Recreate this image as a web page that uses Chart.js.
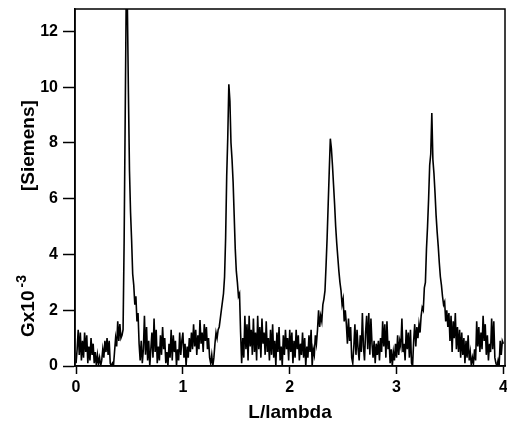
<!DOCTYPE html>
<html>
<head>
<meta charset="utf-8">
<title>Conductance vs L/lambda</title>
<script src="https://cdn.jsdelivr.net/npm/chart.js@4.4.0/dist/chart.umd.min.js"></script>
<style>
  html, body { margin: 0; padding: 0; background: #fff; }
  canvas { display: block; }
</style>
</head>
<body>
<canvas id="chart" width="507" height="428"></canvas>
<script>
'use strict';

/////// data ///////
// conductance samples, one every 0.01 in L/lambda, starting at 0
let sampleStart = 0;
let sampleStep = 0.01;
let conductance = [
  0.1, 0.6, 1.3, 0.4, 1.2, 0.2, 0.9, 0.3, 1.2, 0.5,
  1.1, 0.1, 0.7, 0.2, 1.0, 0.4, 0.8, 0.1, 0.5, 0.0,
  0.4, 0.1, 0.3, 0.0, 0.2, 0.6, 0.3, 0.9, 0.5, 1.0,
  0.4, 0.9, 0.1, 0.0, 0.1, 0.0, 0.5, 1.0, 0.7, 1.6,
  0.9, 1.5, 1.0, 1.1, 1.3, 4.5, 9.0, 13.5, 13.0, 9.8,
  7.0, 5.5, 4.5, 3.3, 2.9, 2.2, 2.5, 1.6, 1.9, 0.8,
  0.2, 0.9, 0.1, 0.6, 1.8, 0.4, 1.4, 0.2, 0.9, 0.0,
  0.6, 1.2, 0.3, 1.7, 0.5, 1.3, 0.1, 0.7, 0.2, 1.1,
  0.4, 1.4, 0.6, 1.0, 0.1, 0.5, 0.0, 0.8, 0.3, 1.3,
  0.2, 1.1, 0.5, 0.9, 0.0, 0.6, 0.2, 1.2, 0.4, 0.9,
  1.2, 0.3, 0.8, 0.0, 0.7, 0.3, 1.0, 0.5, 1.2, 0.6,
  1.5, 0.7, 1.3, 0.4, 1.1, 0.6, 1.65, 0.8, 1.2, 0.5,
  1.5, 0.9, 1.4, 0.6, 1.0, 0.3, 0.1, 0.4, 0.0, 0.3,
  0.8, 1.2, 1.0, 1.3, 1.4, 1.7, 2.0, 2.3, 2.6, 3.2,
  4.6, 6.8, 8.2, 10.1, 9.5, 8.0, 7.4, 6.6, 5.4, 4.2,
  3.4, 3.0, 2.5, 2.6, 1.2, 0.1, 1.0, 0.3, 1.8, 0.6,
  1.5, 0.2, 1.8, 0.7, 1.3, 0.4, 1.7, 0.5, 1.2, 0.2,
  1.8, 0.6, 1.4, 0.3, 1.7, 0.8, 1.2, 0.4, 1.6, 0.5,
  1.0, 0.2, 1.3, 0.4, 1.5, 0.3, 0.9, 0.0, 1.2, 0.5,
  1.4, 0.2, 0.7, 0.0, 1.1, 0.4, 1.3, 0.6, 1.0, 0.2,
  1.3, 0.5, 1.2, 0.1, 0.9, 0.3, 1.3, 0.6, 1.1, 0.2,
  0.8, 0.4, 1.2, 0.3, 1.0, 0.0, 0.7, 0.3, 1.1, 0.5,
  1.3, 0.0, 0.6, 0.4, 1.1, 0.8, 1.3, 2.0, 1.4, 1.8,
  1.6, 2.2, 2.4, 2.7, 3.6, 4.6, 5.8, 7.0, 8.15, 7.8,
  7.2, 6.5, 5.8, 5.0, 4.4, 3.9, 3.4, 3.0, 2.7, 2.2,
  2.4, 1.6, 2.0, 1.5, 0.8, 1.7, 0.9, 1.4, 0.3, 0.1,
  0.7, 1.5, 0.4, 1.3, 0.6, 0.2, 1.1, 0.5, 1.9, 0.7,
  0.2, 1.2, 1.8, 0.6, 1.9, 0.4, 1.7, 0.8, 0.3, 0.9,
  0.1, 0.8, 0.4, 0.9, 0.2, 1.0, 0.5, 1.6, 0.7, 1.5,
  0.3, 1.6, 0.6, 0.9, 0.1, 0.6, 0.0, 0.5, 0.2, 0.8,
  0.3, 1.1, 0.4, 0.9, 0.7, 1.7, 0.5, 0.8, 0.2, 1.3,
  0.6, 1.2, 0.3, 1.3, 0.1, 0.0, 0.9, 1.5, 0.7, 1.4,
  1.0, 1.5, 1.2, 1.8, 2.1, 2.0, 2.8, 3.0, 4.2, 5.0,
  6.0, 7.2, 7.6, 9.07, 7.4, 6.9, 6.2, 5.4, 4.8, 4.3,
  3.7, 3.2, 2.9, 2.5, 2.2, 2.3, 1.6, 2.0, 1.4, 1.9,
  0.9, 1.8, 0.5, 1.6, 1.0, 1.9, 0.6, 1.4, 0.5, 1.3,
  0.3, 1.2, 0.4, 1.0, 0.1, 0.9, 0.3, 1.1, 0.2, 0.5,
  0.0, 0.3, 0.1, 0.6, 0.2, 1.6, 0.7, 1.4, 0.5, 1.2,
  0.6, 1.8, 0.9, 1.5, 0.4, 1.1, 0.2, 0.8, 0.5, 1.7,
  0.6, 1.6, 0.3, 0.1, 0.0, 0.2, 0.0, 0.9, 0.4, 0.9,
  0.8
];
let xTicks = [0, 1, 2, 3, 4];
let yTicks = [0, 2, 4, 6, 8, 10, 12];
let xLabel = 'L/lambda';
let yLabelMain = 'Gx10';
let yLabelExp = '-3';
let yLabelUnit = '[Siemens]';

/////// build points for the line ///////
let points = [];
for (let i = 0; i < conductance.length; i++) {
  points.push({ x: sampleStart + i * sampleStep, y: conductance[i] });
}

let fontFamily = '"Liberation Sans", Arial, Helvetica, sans-serif';

/////// white background + box around plot ///////
const frame = {
  id: 'frame',
  beforeDraw(chart) {
    const c = chart.ctx;
    c.save();
    c.fillStyle = '#fff';
    c.fillRect(0, 0, chart.width, chart.height);
    c.restore();
  },
  afterDraw(chart) {
    const c = chart.ctx;
    const a = chart.chartArea;
    c.save();
    c.strokeStyle = '#000';
    c.lineWidth = 1.5;
    c.strokeRect(a.left, a.top, a.right - a.left, a.bottom - a.top);
    c.restore();
  }
};

/////// y title with superscript exponent ///////
const yTitle = {
  id: 'yTitle',
  afterDraw(chart) {
    const c = chart.ctx;
    c.save();
    c.translate(34, 337);
    c.rotate(-Math.PI / 2);
    c.fillStyle = '#000';
    c.textAlign = 'left';
    c.textBaseline = 'alphabetic';
    c.font = 'bold 19px ' + fontFamily;
    c.fillText(yLabelMain, 0, 0);
    let w = c.measureText(yLabelMain).width;
    c.font = 'bold 14px ' + fontFamily;
    c.fillText(yLabelExp, w + 3, -8);
    c.font = 'bold 19px ' + fontFamily;
    c.fillText(yLabelUnit, 146, 0);
    c.restore();
  }
};

const ctx = document.getElementById('chart').getContext('2d');
const myChart = new Chart(ctx, {
  type: 'line',
  data: {
    datasets: [{
      label: 'G',
      data: points,
      borderColor: '#000',
      borderWidth: 1.6,
      pointRadius: 0,
      tension: 0,
      fill: false
    }]
  },
  options: {
    responsive: false,
    devicePixelRatio: 1,
    animation: false,
    parsing: false,
    layout: { padding: { top: 9, right: 2, left: 0, bottom: 0 } },
    plugins: {
      legend: { display: false },
      tooltip: { enabled: false }
    },
    scales: {
      x: {
        type: 'linear',
        min: -0.01,
        max: 4.015,
        afterFit(s) { s.height = 62; s.paddingLeft = 0; s.paddingRight = 0; },
        afterBuildTicks(s) { s.ticks = xTicks.map(v => ({ value: v })); },
        ticks: {
          color: '#000',
          font: { family: fontFamily, size: 16, weight: 'bold' },
          padding: 4,
          maxRotation: 0
        },
        grid: { drawOnChartArea: false, drawTicks: true, tickLength: 8, tickWidth: 1.5, tickColor: '#000' },
        border: { color: '#000', width: 1.5 },
        title: {
          display: true,
          text: xLabel,
          color: '#000',
          font: { family: fontFamily, size: 19, weight: 'bold' },
          padding: { top: 2, bottom: 4 }
        }
      },
      y: {
        type: 'linear',
        min: 0,
        max: 12.8,
        afterFit(s) { s.width = 75; s.paddingTop = 0; s.paddingBottom = 0; },
        afterBuildTicks(s) { s.ticks = yTicks.map(v => ({ value: v })); },
        ticks: {
          color: '#000',
          font: { family: fontFamily, size: 16, weight: 'bold' },
          padding: 5
        },
        grid: { drawOnChartArea: false, drawTicks: true, tickLength: 12, tickWidth: 1.5, tickColor: '#000' },
        border: { color: '#000', width: 1.5 }
      }
    }
  },
  plugins: [frame, yTitle]
});
</script>
</body>
</html>
